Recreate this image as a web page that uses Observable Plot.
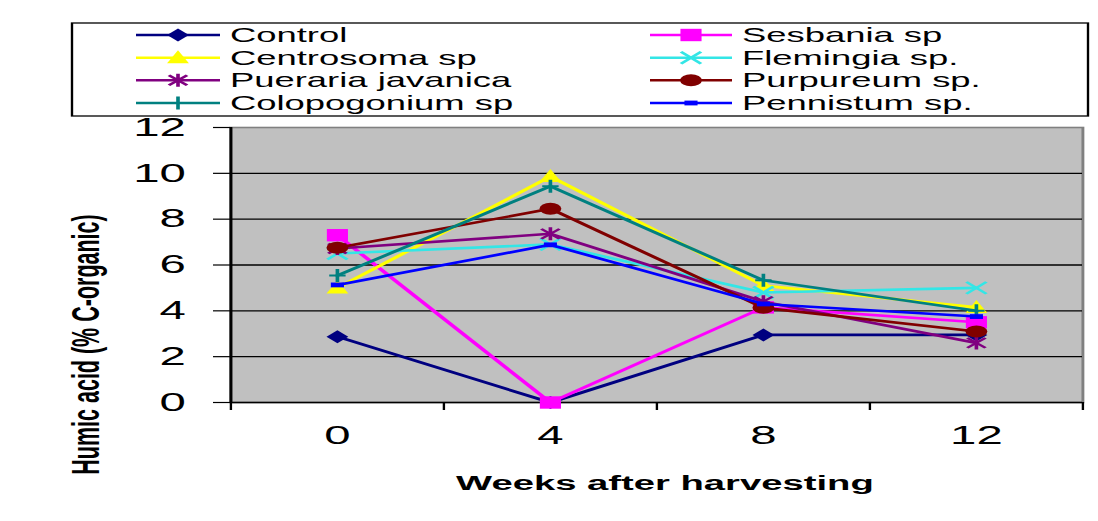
<!DOCTYPE html>
<html><head><meta charset="utf-8">
<script src="https://cdn.jsdelivr.net/npm/d3@7"></script>
<script src="https://cdn.jsdelivr.net/npm/@observablehq/plot@0.6"></script>
<style>
html,body{margin:0;padding:0;background:#fff;}
#wrap{position:relative;width:1098px;height:521px;overflow:hidden;background:#fff;}
#wrap svg{position:absolute;left:0;top:0;}
</style></head><body><div id="wrap"></div>
<script>
// ---- data ----
const weeks = [0, 4, 8, 12];
const seriesNames = ["Control", "Sesbania sp", "Centrosoma sp", "Flemingia sp.", "Pueraria javanica", "Purpureum sp.", "Colopogonium sp", "Pennistum sp."];
const control      = [2.87, 0, 2.95, 2.95];
const sesbania     = [7.3, 0, 4.15, 3.5];
const centrosoma   = [5.0, 9.86, 5.1, 4.15];
const flemingia    = [6.5, 6.9, 4.8, 5.0];
const pueraria     = [6.72, 7.36, 4.4, 2.6];
const purpureum    = [6.75, 8.45, 4.13, 3.1];
const colopogonium = [5.54, 9.44, 5.33, 4.0];
const pennistum    = [5.13, 6.88, 4.3, 3.75];
const seriesValues = [control, sesbania, centrosoma, flemingia, pueraria, purpureum, colopogonium, pennistum];
const seriesColors = ["#000080", "#ff00ff", "#ffff00", "#33e6e6", "#800080", "#800000", "#008080", "#0000ff"];
const seriesSymbols = ["diamond", "square", "triangle", "times", "asterisk", "circle", "plus", "dash"];
const yTicks = [0, 2, 4, 6, 8, 10, 12];
const yGrid = [2, 4, 6, 8, 10];
const xLabelTicks = [0, 4, 8, 12];
const xTickMarks = [-2, 2, 6, 10, 14];
const xLabel = "Weeks after harvesting";
const yLabel = "Humic acid (% C-organic)";

// ---- layout (the original picture is stretched horizontally) ----
const W = 603;              // drawing width in units
const S = 1098 / W;         // horizontal stretch factor

const rows = [];
seriesNames.forEach((name, i) => seriesValues[i].forEach((v, j) => rows.push({series: name, week: weeks[j], value: v})));

const symbolDefs = {
  diamond: {draw(c) { c.moveTo(0, -6.5); c.lineTo(6, 0); c.lineTo(0, 6.5); c.lineTo(-6, 0); c.closePath(); }},
  square: {draw(c) { c.rect(-5.8, -6.2, 11.6, 12.4); }},
  triangle: {draw(c) { c.moveTo(0, -7.5); c.lineTo(6, 5.5); c.lineTo(-6, 5.5); c.closePath(); }},
  times: {draw(c) { c.moveTo(-5.5, -6); c.lineTo(5.5, 6); c.moveTo(5.5, -6); c.lineTo(-5.5, 6); }},
  asterisk: {draw(c) { c.moveTo(0, -6.5); c.lineTo(0, 6.5); c.moveTo(-5, -5); c.lineTo(5, 5); c.moveTo(5, -5); c.lineTo(-5, 5); }},
  circle: {draw(c) { c.moveTo(6, 0); c.arc(0, 0, 6, 0, 2 * Math.PI); }},
  plus: {draw(c) { c.moveTo(0, -6.5); c.lineTo(0, 6.5); c.moveTo(-4.5, 0); c.lineTo(4.5, 0); }},
  dash: {draw(c) { c.rect(-3.6, -2.4, 7.2, 4.8); }}
};
const strokeOnly = new Set(["times", "asterisk", "plus"]);

const seriesMarks = [];
seriesNames.forEach((name, i) => {
  const d = rows.filter(r => r.series === name);
  seriesMarks.push(Plot.line(d, {x: "week", y: "value", stroke: seriesColors[i], strokeWidth: 2.6}));
  const key = seriesSymbols[i];
  const so = strokeOnly.has(key);
  seriesMarks.push(Plot.dot(d, {
    x: "week", y: "value", r: 5, symbol: symbolDefs[key],
    fill: so ? "none" : seriesColors[i],
    stroke: so ? seriesColors[i] : "none",
    strokeWidth: so ? 2 : 0
  }));
});

const chart = Plot.plot({
  width: W,
  height: 521,
  marginLeft: 230 / S,
  marginRight: W - 1082 / S,
  marginTop: 127,
  marginBottom: 119,
  x: {domain: [-2, 14], label: null},
  y: {domain: [0, 12], label: null},
  style: {fontFamily: "'Liberation Sans', Arial, sans-serif", background: "transparent", color: "#000", overflow: "visible"},
  marks: [
    Plot.frame({fill: "#c0c0c0", stroke: "#808080", strokeWidth: 1.6}),
    Plot.ruleY(yGrid, {stroke: "#000", strokeWidth: 1.3}),
    Plot.axisY({ticks: yTicks, tickSize: 17 / S, tickPadding: 28 / S, fontSize: 26, tickFormat: d => String(d), label: null, strokeWidth: 1.2}),
    Plot.axisX({ticks: xTickMarks, tickSize: 8, tickFormat: () => "", label: null, strokeWidth: 1.3}),
    Plot.axisX({ticks: xLabelTicks, tickSize: 0, tickPadding: 23, fontSize: 26, tickFormat: d => String(d), label: null}),
    Plot.ruleX([-2], {stroke: "#000", strokeWidth: 1.6}),
    Plot.ruleY([0], {stroke: "#000", strokeWidth: 1.5}),
    ...seriesMarks,
    Plot.text([xLabel], {frameAnchor: "bottom", dx: 8 / S, dy: 81, text: d => d, fontWeight: "bold", fontSize: 21, lineAnchor: "middle", textAnchor: "middle"}),
    Plot.text([yLabel], {frameAnchor: "left", rotate: -90, dx: -144 / S, dy: 79.5, text: d => d, fontWeight: "bold", fontSize: 21.5, lineAnchor: "middle", textAnchor: "middle"})
  ]
});
chart.setAttribute("width", 1098);
chart.setAttribute("height", 521);
chart.setAttribute("viewBox", `0 0 ${W} 521`);
chart.setAttribute("preserveAspectRatio", "none");
chart.style.width = "1098px";
chart.style.height = "521px";
chart.style.maxWidth = "none";
document.getElementById("wrap").appendChild(chart);

// ---- legend ----
const leg = d3.create("svg")
  .attr("width", 1098).attr("height", 125)
  .attr("viewBox", `0 0 ${W} 125`)
  .attr("preserveAspectRatio", "none")
  .style("width", "1098px").style("height", "125px")
  .style("font-family", "'Liberation Sans', Arial, sans-serif");
leg.append("rect")
  .attr("x", 72 / S).attr("y", 23).attr("width", (1088 - 72) / S).attr("height", 93)
  .attr("fill", "#fff").attr("stroke", "#000").attr("stroke-width", 1.3);
const rowY = [35, 57.7, 80.3, 103];
const colLine = [[136, 220], [650, 732]];
const colText = [230, 742];
seriesNames.forEach((name, i) => {
  const col = i % 2, row = Math.floor(i / 2);
  const y = rowY[row];
  const [a, b] = colLine[col];
  const g = leg.append("g");
  g.append("line").attr("x1", a / S).attr("x2", b / S).attr("y1", y).attr("y2", y)
    .attr("stroke", seriesColors[i]).attr("stroke-width", 2.4);
  const key = seriesSymbols[i];
  const so = strokeOnly.has(key);
  g.append("path").attr("d", d3.symbol(symbolDefs[key], 64)())
    .attr("transform", `translate(${(a + b) / 2 / S},${y})`)
    .attr("fill", so ? "none" : seriesColors[i])
    .attr("stroke", so ? seriesColors[i] : "none")
    .attr("stroke-width", so ? 2 : 0);
  g.append("text").attr("x", colText[col] / S).attr("y", y).attr("dy", "0.35em")
    .attr("font-size", 20).attr("fill", "#000").text(name);
});
document.getElementById("wrap").appendChild(leg.node());
</script>
</body></html>
